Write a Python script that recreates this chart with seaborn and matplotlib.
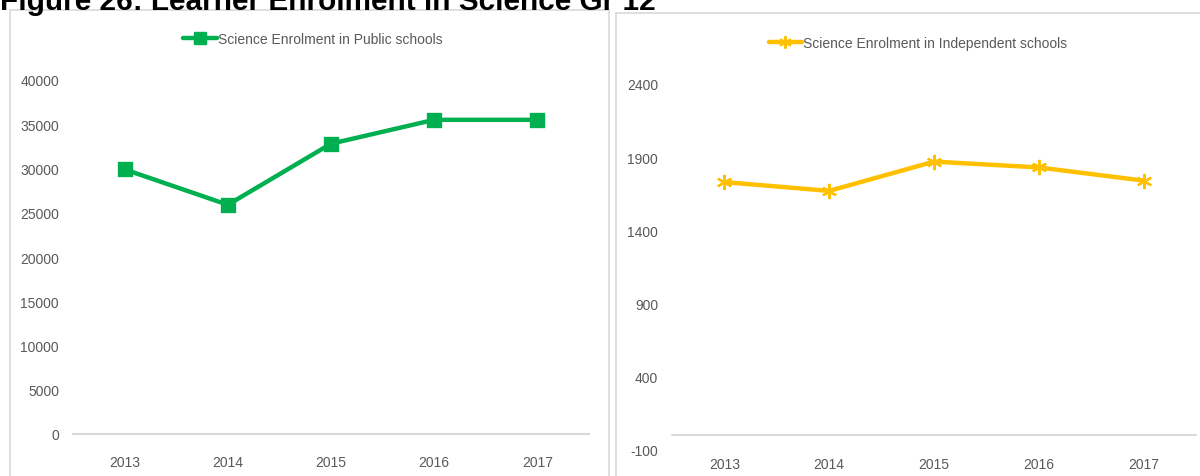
import matplotlib
matplotlib.use("Agg")
import matplotlib.pyplot as plt
from matplotlib.patches import Rectangle
from matplotlib.lines import Line2D
import seaborn as sns
import pandas as pd

# ---- data ----
years = ["2013", "2014", "2015", "2016", "2017"]
public_enrolment = [29900, 25900, 32800, 35500, 35500]
independent_enrolment = [1730, 1670, 1870, 1830, 1740]
public_label = "Science Enrolment in Public schools"
independent_label = "Science Enrolment in Independent schools"
public_yticks = [0, 5000, 10000, 15000, 20000, 25000, 30000, 35000, 40000]
independent_yticks = [-100, 400, 900, 1400, 1900, 2400]
title = "Figure 26: Learner Enrolment in Science Gr 12"

sns.set_theme(style="white")
plt.rcParams["font.family"] = ["Liberation Sans", "DejaVu Sans"]
plt.rcParams["axes.unicode_minus"] = False

TXT = "#595959"
GRID = "#d9d9d9"
GREEN = "#00b050"
GOLD = "#ffc000"

W, H = 1200, 477
fig = plt.figure(figsize=(W / 100, H / 100), dpi=100)


def fx(px):
    return px / W


def fy(py):
    return 1 - py / H


# panel borders
fig.patches.append(Rectangle((fx(10), -0.02), fx(609) - fx(10), fy(11) + 0.02,
                             transform=fig.transFigure, fill=False, edgecolor=GRID, lw=1.2))
fig.patches.append(Rectangle((fx(616), -0.02), 0.6, fy(14) + 0.02,
                             transform=fig.transFigure, fill=False, edgecolor=GRID, lw=1.2))

# title (cut off at the top, as in the reference)
fig.text(0.0, fy(10), title, ha="left", va="baseline", fontsize=21.4,
         fontweight="bold", color="black")

# left axes
axL = fig.add_axes([fx(73), fy(435), fx(589) - fx(73), fy(81) - fy(435)])
df_pub = pd.DataFrame({"year": years, "value": public_enrolment})
sns.pointplot(data=df_pub, x="year", y="value", ax=axL, color=GREEN, markers="s",
              linestyles="-", errorbar=None, markersize=9, linewidth=3.2)
axL.set_ylim(0, 40000)
axL.set_yticks(public_yticks)
axL.set_xlim(-0.5, len(years) - 0.5)

# right axes
axR = fig.add_axes([fx(672), fy(451), fx(1196) - fx(672), fy(85) - fy(451)])
df_ind = pd.DataFrame({"year": years, "value": independent_enrolment})
sns.pointplot(data=df_ind, x="year", y="value", ax=axR, color=GOLD, markers=(6, 2, 0),
              linestyles="-", errorbar=None, markersize=11, linewidth=3.2,
              markeredgewidth=1.6)
axR.set_ylim(-100, 2400)
axR.set_yticks(independent_yticks)
axR.set_xlim(-0.5, len(years) - 0.5)
axR.axhline(0, color=GRID, lw=1.5, zorder=0)

for ax in (axL, axR):
    for ln in ax.lines:
        ln.set_clip_on(False)
    for coll in ax.collections:
        coll.set_clip_on(False)
    ax.set_xlabel("")
    ax.set_ylabel("")
    for s in ax.spines.values():
        s.set_visible(False)
    ax.tick_params(axis="both", length=0, labelsize=10, labelcolor=TXT)
    ax.tick_params(axis="y", pad=10)
    ax.grid(False)
    ax.set_facecolor("none")

axL.spines["bottom"].set_visible(True)
axL.spines["bottom"].set_color(GRID)
axL.spines["bottom"].set_linewidth(1.5)
axL.tick_params(axis="x", pad=15)
axR.tick_params(axis="x", pad=5)

# legends
hL = Line2D([], [], color=GREEN, marker="s", lw=3.2, markersize=8)
fig.legend([hL], [public_label], loc="center", bbox_to_anchor=(fx(313), fy(40)),
           frameon=False, fontsize=10, labelcolor=TXT, handlelength=2.4,
           handletextpad=0.1)
hR = Line2D([], [], color=GOLD, marker=(6, 2, 0), lw=3.2, markersize=9, markeredgewidth=1.4)
fig.legend([hR], [independent_label], loc="center", bbox_to_anchor=(fx(918), fy(44)),
           frameon=False, fontsize=10, labelcolor=TXT, handlelength=2.4,
           handletextpad=0.1)

fig.savefig("out.png", dpi=100, facecolor="white")
